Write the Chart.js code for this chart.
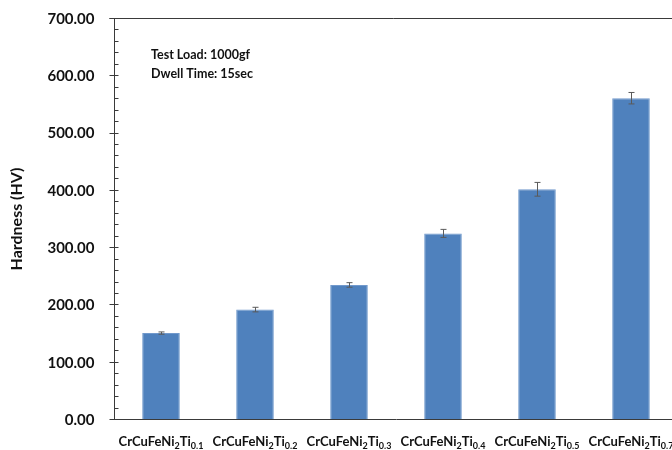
<!DOCTYPE html>
<html>
<head>
<meta charset="utf-8">
<script src="https://cdn.jsdelivr.net/npm/chart.js@4"></script>
<style>
  html, body { margin: 0; padding: 0; background: #fff; overflow: hidden; }
  #wrap { position: relative; width: 678px; height: 450px; }
</style>
</head>
<body>
<div id="wrap"><canvas id="c"></canvas></div>
<script>
// Ti content of each alloy, hardness means and their standard deviations
const tiContents = ['0.1', '0.2', '0.3', '0.4', '0.5', '0.7'];
const categories = tiContents.map(t => 'CrCuFeNi2Ti' + t);
const hardness = [150, 191, 234, 324, 401, 560];
const hardnessErr = [2, 4, 4, 7, 12, 10];
const yTicks = [0, 100, 200, 300, 400, 500, 600, 700];
const noteLines = ['Test Load: 1000gf', 'Dwell Time: 15sec'];
const yTitle = 'Hardness (HV)';

const FONT = 'Lato, "Open Sans", sans-serif';
const TEXT = '#111';
const AXIS = '#3a3a3a';

// Error bars, axis ticks and labels, subscripted category labels and the test note
const decorations = {
  id: 'decorations',
  afterDatasetsDraw(chart) {
    const ctx = chart.ctx;
    const y = chart.scales.y;
    const meta = chart.getDatasetMeta(0);
    ctx.save();
    ctx.strokeStyle = '#5a5a5a';
    ctx.lineWidth = 1;
    meta.data.forEach((bar, i) => {
      const x = Math.round(bar.x) + 0.5;
      const top = y.getPixelForValue(hardness[i] + hardnessErr[i]);
      const bot = y.getPixelForValue(hardness[i] - hardnessErr[i]);
      ctx.beginPath();
      ctx.moveTo(x, top); ctx.lineTo(x, bot);
      ctx.moveTo(x - 3, top); ctx.lineTo(x + 3, top);
      ctx.moveTo(x - 3, bot); ctx.lineTo(x + 3, bot);
      ctx.stroke();
    });
    ctx.restore();
  },
  afterDraw(chart) {
    const ctx = chart.ctx;
    const y = chart.scales.y;
    const area = chart.chartArea;
    const ax = Math.round(area.left) + 0.5;
    ctx.save();
    ctx.strokeStyle = AXIS;
    ctx.lineWidth = 1;
    ctx.beginPath();
    // top frame line
    const yt = Math.round(y.getPixelForValue(yTicks[yTicks.length - 1])) + 0.5;
    ctx.moveTo(ax - 5, yt); ctx.lineTo(chart.width, yt);
    // major ticks crossing the axis, minor ticks inside
    for (let v = yTicks[0]; v <= yTicks[yTicks.length - 1]; v += 20) {
      const py = Math.round(y.getPixelForValue(v)) + 0.5;
      if (v % 100 === 0) { ctx.moveTo(ax - 5, py); ctx.lineTo(ax + 4, py); }
      else { ctx.moveTo(ax, py); ctx.lineTo(ax + 4, py); }
    }
    ctx.stroke();

    // value axis labels
    ctx.fillStyle = TEXT;
    ctx.font = 'bold 15px ' + FONT;
    ctx.textAlign = 'right';
    ctx.textBaseline = 'middle';
    yTicks.forEach(v => ctx.fillText(v.toFixed(2), ax - 20, y.getPixelForValue(v) + 1));

    // category labels with subscripts
    ctx.textBaseline = 'alphabetic';
    ctx.textAlign = 'left';
    const big = 'bold 13px ' + FONT;
    const small = 'bold 9px ' + FONT;
    const meta = chart.getDatasetMeta(0);
    tiContents.forEach((t, i) => {
      const parts = [['CrCuFeNi', false], ['2', true], ['Ti', false], [t, true]];
      let w = 0;
      parts.forEach(p => { ctx.font = p[1] ? small : big; w += ctx.measureText(p[0]).width; });
      let x = meta.data[i].x - w / 2;
      const base = 446;
      parts.forEach(p => {
        ctx.font = p[1] ? small : big;
        ctx.fillText(p[0], x, p[1] ? base + 3 : base);
        x += ctx.measureText(p[0]).width;
      });
    });

    // axis title
    ctx.save();
    ctx.translate(17, 219);
    ctx.rotate(-Math.PI / 2);
    ctx.textAlign = 'center';
    ctx.textBaseline = 'middle';
    ctx.font = 'bold 16px ' + FONT;
    ctx.fillText(yTitle, 0, 0);
    ctx.restore();

    // test conditions note
    ctx.font = 'bold 12.5px ' + FONT;
    ctx.textAlign = 'left';
    ctx.textBaseline = 'middle';
    noteLines.forEach((s, i) => ctx.fillText(s, 151, 55 + i * 19));
    ctx.restore();
  }
};

new Chart(document.getElementById('c'), {
  type: 'bar',
  data: {
    labels: categories,
    datasets: [{
      data: hardness,
      backgroundColor: '#4f81bd',
      borderColor: '#7199cc',
      borderWidth: 1,
      barPercentage: 0.4,
      categoryPercentage: 1.0
    }]
  },
  options: {
    responsive: true,
    maintainAspectRatio: false,
    animation: false,
    devicePixelRatio: 1,
    layout: { padding: { top: 18, left: 0, right: 0, bottom: 0 } },
    plugins: { legend: { display: false }, tooltip: { enabled: false } },
    scales: {
      x: {
        grid: { display: false, drawTicks: false },
        border: { display: true, color: AXIS, width: 1 },
        ticks: { display: false },
        afterFit(scale) { scale.height = 31; }
      },
      y: {
        min: yTicks[0],
        max: yTicks[yTicks.length - 1],
        afterBuildTicks(scale) { scale.ticks = yTicks.map(v => ({ value: v })); },
        grid: { display: false, drawTicks: false },
        border: { display: true, color: AXIS, width: 1 },
        ticks: { display: false },
        afterFit(scale) { scale.width = 114; }
      }
    }
  },
  plugins: [decorations]
});
</script>
</body>
</html>
